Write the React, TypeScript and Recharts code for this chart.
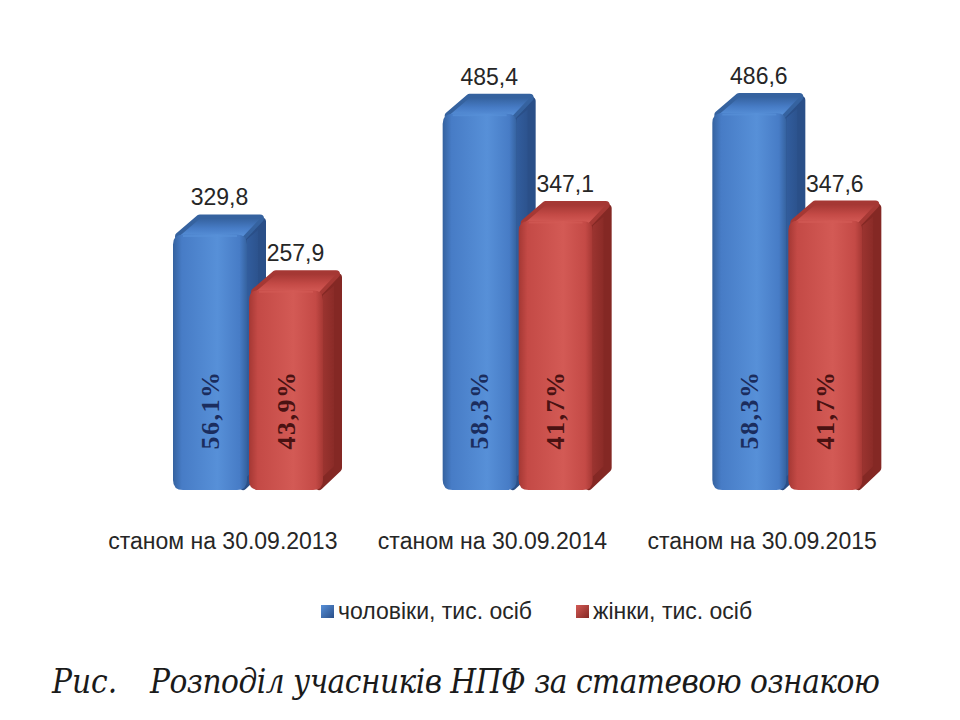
import React from 'react';
import { BarChart, Bar, XAxis, YAxis, LabelList } from 'recharts';

// Participants of non-state pension funds by gender, thousand persons
const periods = ['станом на 30.09.2013', 'станом на 30.09.2014', 'станом на 30.09.2015'];
const menThousands = [329.8, 485.4, 486.6];
const womenThousands = [257.9, 347.1, 347.6];
const menShare = [56.1, 58.3, 58.3];
const womenShare = [43.9, 41.7, 41.7];
const seriesNames = ['чоловіки, тис. осіб', 'жінки, тис. осіб'];
const captionLead = 'Рис.';
const captionText = 'Розподіл учасників НПФ за статевою ознакою';

const data = periods.map((period, i) => ({
  period,
  men: menThousands[i],
  women: womenThousands[i],
  menShare: menShare[i],
  womenShare: womenShare[i],
}));

const fmt = (v: number) => v.toFixed(1).replace('.', ',');

// extrusion of the 3D blocks
const DX = 19;
const DY = -20;

type Tone = { id: string; dark: string; mid: string; light: string; side: string; sideDark: string; text: string };

const blue: Tone = {
  id: 'blue',
  dark: '#35629f',
  mid: '#477cc6',
  light: '#5790d8',
  side: '#3461a3',
  sideDark: '#2a4f88',
  text: '#1b2d5e',
};
const red: Tone = {
  id: 'red',
  dark: '#a53834',
  mid: '#c44a46',
  light: '#d35a55',
  side: '#a13733',
  sideDark: '#842824',
  text: '#4a1212',
};

const Gradients = ({ t }: { t: Tone }) => (
  <defs>
    <linearGradient id={`front-${t.id}`} x1="0" y1="0" x2="1" y2="0">
      <stop offset="0" stopColor={t.dark} />
      <stop offset="0.12" stopColor={t.mid} />
      <stop offset="0.6" stopColor={t.light} />
      <stop offset="0.9" stopColor={t.mid} />
      <stop offset="1" stopColor={t.dark} />
    </linearGradient>
    <linearGradient id={`top-${t.id}`} x1="0" y1="0" x2="0" y2="1">
      <stop offset="0" stopColor={t.dark} />
      <stop offset="0.55" stopColor={t.mid} />
      <stop offset="1" stopColor={t.light} />
    </linearGradient>
    <linearGradient id={`side-${t.id}`} x1="0" y1="0" x2="1" y2="0">
      <stop offset="0" stopColor={t.side} />
      <stop offset="1" stopColor={t.sideDark} />
    </linearGradient>
  </defs>
);

const Block = (props: any, t: Tone) => {
  const { x, y, width: w, height: h } = props;
  if (h == null || h <= 0) return null;
  const r = 10;
  const front = `M${x + r},${y} H${x + w - r} Q${x + w},${y} ${x + w},${y + r} V${y + h - r} Q${x + w},${y + h} ${x + w - r},${y + h} H${x + r} Q${x},${y + h} ${x},${y + h - r} V${y + r} Q${x},${y} ${x + r},${y} Z`;
  const side = `M${x + w - 4},${y + 3} L${x + w + DX - 4},${y + DY + 7} L${x + w + DX - 4},${y + h + DY - 2} L${x + w - 4},${y + h - 4} Z`;
  const top = `M${x + 6},${y + 2} L${x + DX + 8},${y + DY + 4} L${x + w + DX - 6},${y + DY + 4} L${x + w - 4},${y + 2} Z`;
  return (
    <g>
      <path d={side} fill={`url(#side-${t.id})`} stroke={t.sideDark} strokeWidth={8} strokeLinejoin="round" />
      <path d={top} fill={`url(#top-${t.id})`} stroke={t.dark} strokeWidth={8} strokeLinejoin="round" />
      <path d={top} fill={`url(#top-${t.id})`} />
      <path d={front} fill={`url(#front-${t.id})`} />
      <path d={`M${x + r},${y + 1.5} H${x + w - r}`} stroke={t.light} strokeWidth={2} opacity={0.7} />
    </g>
  );
};

const valueLabel = (props: any) => {
  const { x, y, width, value } = props;
  return (
    <text
      x={x + width / 2 + DX / 2}
      y={y + DY - 9}
      textAnchor="middle"
      fontFamily="'Liberation Sans', Arial, sans-serif"
      fontSize={23}
      fill="#262626"
    >
      {fmt(value)}
    </text>
  );
};

const shareLabel = (color: string) => (props: any) => {
  const { x, y, width, height, value } = props;
  const cx = x + width / 2;
  const cy = y + height - 80;
  return (
    <text
      x={cx}
      y={cy}
      transform={`rotate(-90 ${cx} ${cy})`}
      textAnchor="middle"
      dominantBaseline="central"
      fontFamily="'Liberation Serif', 'Times New Roman', serif"
      fontWeight="bold"
      fontSize={26}
      letterSpacing={1.5}
      fill={color}
    >
      {fmt(value)}%
    </text>
  );
};

const PeriodTick = (props: any) => {
  const { x, y, payload } = props;
  return (
    <text
      x={x - 25}
      y={y + 51}
      textAnchor="middle"
      fontFamily="'Liberation Sans', Arial, sans-serif"
      fontSize={23}
      fill="#262626"
    >
      {payload.value}
    </text>
  );
};

const LegendItem = ({ tone, label }: { tone: Tone; label: string }) => (
  <div style={{ display: 'flex', alignItems: 'center', marginRight: 44 }}>
    <span
      style={{
        display: 'inline-block',
        width: 13,
        height: 13,
        marginRight: 4,
        background: `linear-gradient(135deg, ${tone.light}, ${tone.sideDark})`,
      }}
    />
    <span style={{ fontFamily: "'Liberation Sans', Arial, sans-serif", fontSize: 23, color: '#262626' }}>{label}</span>
  </div>
);

export default function App() {
  return (
    <div style={{ position: 'absolute', left: 0, top: 0, width: 960, height: 720, background: '#ffffff' }}>
      <BarChart
        width={960}
        height={720}
        data={data}
        margin={{ top: 25, right: 38, bottom: 160, left: 113 }}
        barGap={2}
        barSize={74}
      >
        <Gradients t={blue} />
        <Gradients t={red} />
        <XAxis dataKey="period" height={70} axisLine={false} tickLine={false} tick={<PeriodTick />} interval={0} />
        <YAxis hide domain={[0, 600]} />
        <Bar dataKey="men" name={seriesNames[0]} isAnimationActive={false} shape={(p: any) => Block(p, blue)}>
          <LabelList dataKey="men" content={valueLabel} />
          <LabelList dataKey="menShare" content={shareLabel(blue.text)} />
        </Bar>
        <Bar dataKey="women" name={seriesNames[1]} isAnimationActive={false} shape={(p: any) => Block(p, red)}>
          <LabelList dataKey="women" content={valueLabel} />
          <LabelList dataKey="womenShare" content={shareLabel(red.text)} />
        </Bar>
      </BarChart>
      <div style={{ position: 'absolute', top: 598, left: 321, display: 'flex' }}>
        <LegendItem tone={blue} label={seriesNames[0]} />
        <LegendItem tone={red} label={seriesNames[1]} />
      </div>
      <svg style={{ position: 'absolute', left: 0, top: 650 }} width={960} height={60}>
        <text
          x={52}
          y={43}
          fontFamily="'DejaVu Serif Condensed', 'Liberation Serif', serif"
          fontStyle="italic"
          fontSize={33}
          fill="#1a1a1a"
        >
          {captionLead}
        </text>
        <text
          x={150}
          y={43}
          fontFamily="'DejaVu Serif Condensed', 'Liberation Serif', serif"
          fontStyle="italic"
          fontSize={33}
          fill="#1a1a1a"
          textLength={730}
        >
          {captionText}
        </text>
      </svg>
    </div>
  );
}
